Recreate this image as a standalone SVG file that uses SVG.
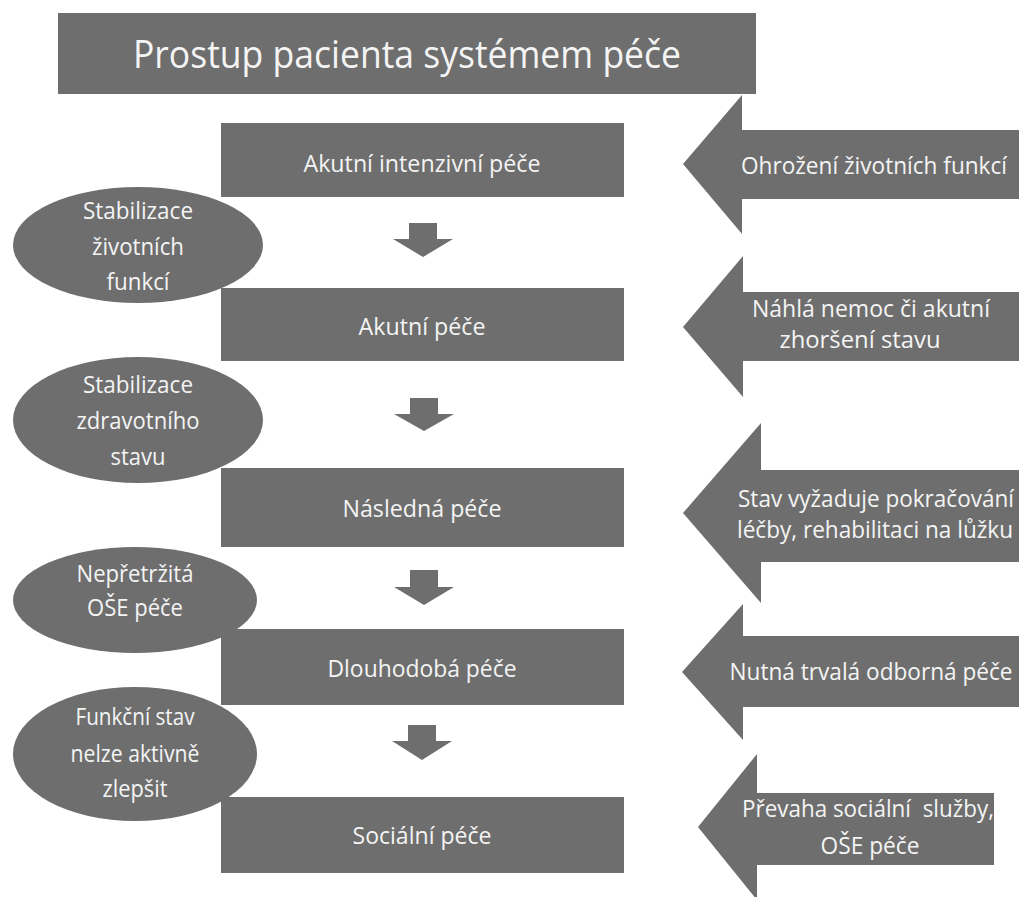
<svg xmlns="http://www.w3.org/2000/svg" width="1019" height="897" viewBox="0 0 1019 897">
<style>
.shape{fill:#6e6e6e;}
.lbl{fill:#f4f4f4;font-family:"Open Sans","Noto Sans","DejaVu Sans",sans-serif;font-size:23px;text-anchor:middle;}
.title{font-size:38px;}
</style>
<rect width="1019" height="897" fill="#ffffff"/>
<g id="title">
<rect class="shape" x="58" y="13" width="698" height="81"/>
<text class="lbl title" x="407" y="68" textLength="548" lengthAdjust="spacingAndGlyphs">Prostup pacienta systémem péče</text>
</g>
<g id="box-akutni-intenzivni">
<rect class="shape" x="221" y="123" width="403" height="74"/>
<text class="lbl" x="422" y="172" textLength="237" lengthAdjust="spacingAndGlyphs">Akutní intenzivní péče</text>
</g>
<g id="box-akutni">
<rect class="shape" x="221" y="288" width="403" height="73"/>
<text class="lbl" x="422" y="335" textLength="127" lengthAdjust="spacingAndGlyphs">Akutní péče</text>
</g>
<g id="box-nasledna">
<rect class="shape" x="221" y="468" width="403" height="79"/>
<text class="lbl" x="422" y="517" textLength="159" lengthAdjust="spacingAndGlyphs">Následná péče</text>
</g>
<g id="box-dlouhodoba">
<rect class="shape" x="221" y="629" width="403" height="76"/>
<text class="lbl" x="422" y="677" textLength="189" lengthAdjust="spacingAndGlyphs">Dlouhodobá péče</text>
</g>
<g id="box-socialni">
<rect class="shape" x="221" y="797" width="403" height="76"/>
<text class="lbl" x="422" y="844" textLength="139" lengthAdjust="spacingAndGlyphs">Sociální péče</text>
</g>
<g id="ellipse-1">
<ellipse class="shape" cx="138" cy="245" rx="125" ry="58"/>
<text class="lbl" x="138" y="219" textLength="110" lengthAdjust="spacingAndGlyphs">Stabilizace</text>
<text class="lbl" x="138" y="255" textLength="92" lengthAdjust="spacingAndGlyphs">životních</text>
<text class="lbl" x="138" y="290" textLength="63" lengthAdjust="spacingAndGlyphs">funkcí</text>
</g>
<g id="ellipse-2">
<ellipse class="shape" cx="138" cy="420" rx="125" ry="63"/>
<text class="lbl" x="138" y="393" textLength="110" lengthAdjust="spacingAndGlyphs">Stabilizace</text>
<text class="lbl" x="138" y="429" textLength="123" lengthAdjust="spacingAndGlyphs">zdravotního</text>
<text class="lbl" x="138" y="465" textLength="55" lengthAdjust="spacingAndGlyphs">stavu</text>
</g>
<g id="ellipse-3">
<ellipse class="shape" cx="135" cy="600" rx="122" ry="53"/>
<text class="lbl" x="135" y="582" textLength="117" lengthAdjust="spacingAndGlyphs">Nepřetržitá</text>
<text class="lbl" x="135" y="616" textLength="96" lengthAdjust="spacingAndGlyphs">OŠE péče</text>
</g>
<g id="ellipse-4">
<ellipse class="shape" cx="135" cy="754" rx="122" ry="67"/>
<text class="lbl" x="135" y="725" textLength="119" lengthAdjust="spacingAndGlyphs">Funkční stav</text>
<text class="lbl" x="135" y="762" textLength="129" lengthAdjust="spacingAndGlyphs">nelze aktivně</text>
<text class="lbl" x="135" y="797" textLength="65" lengthAdjust="spacingAndGlyphs">zlepšit</text>
</g>
<g id="arrow-ohrozeni">
<path class="shape" d="M683,164 L742,95 L742,130 L1019,130 L1019,199 L742,199 L742,234 Z"/>
<text class="lbl" x="874" y="174" textLength="266" lengthAdjust="spacingAndGlyphs">Ohrožení životních funkcí</text>
</g>
<g id="arrow-nahla">
<path class="shape" d="M683,327 L743,256 L743,292 L1019,292 L1019,361 L743,361 L743,397 Z"/>
<text class="lbl" x="871" y="317" textLength="238" lengthAdjust="spacingAndGlyphs">Náhlá nemoc či akutní</text>
<text class="lbl" x="860" y="348" textLength="161" lengthAdjust="spacingAndGlyphs">zhoršení stavu</text>
</g>
<g id="arrow-stav">
<path class="shape" d="M683,513 L761,423 L761,470 L1019,470 L1019,562 L761,562 L761,603 Z"/>
<text class="lbl" x="876" y="507" textLength="276" lengthAdjust="spacingAndGlyphs">Stav vyžaduje pokračování</text>
<text class="lbl" x="875" y="538" textLength="276" lengthAdjust="spacingAndGlyphs">léčby, rehabilitaci na lůžku</text>
</g>
<g id="arrow-nutna">
<path class="shape" d="M682,672 L743,604 L743,636 L1019,636 L1019,707 L743,707 L743,740 Z"/>
<text class="lbl" x="871" y="680" textLength="283" lengthAdjust="spacingAndGlyphs">Nutná trvalá odborná péče</text>
</g>
<g id="arrow-prevaha">
<path class="shape" d="M698,827 L757,754 L757,793 L994,793 L994,865 L757,865 L757,900 Z"/>
<text class="lbl" x="868" y="817" textLength="252" lengthAdjust="spacingAndGlyphs" xml:space="preserve">Převaha sociální  služby,</text>
<text class="lbl" x="870" y="854" textLength="99" lengthAdjust="spacingAndGlyphs">OŠE péče</text>
</g>
<g id="connectors">
<path class="shape" d="M409,223 L437,223 L437,239 L453,239 L423,257 L393,239 L409,239 Z"/>
<path class="shape" d="M410,398 L438,398 L438,414 L454,414 L424,431 L394,414 L410,414 Z"/>
<path class="shape" d="M410,570 L438,570 L438,587 L454,587 L424,605 L394,587 L410,587 Z"/>
<path class="shape" d="M408,725 L436,725 L436,741 L452,741 L422,760 L392,741 L408,741 Z"/>
</g>
</svg>
